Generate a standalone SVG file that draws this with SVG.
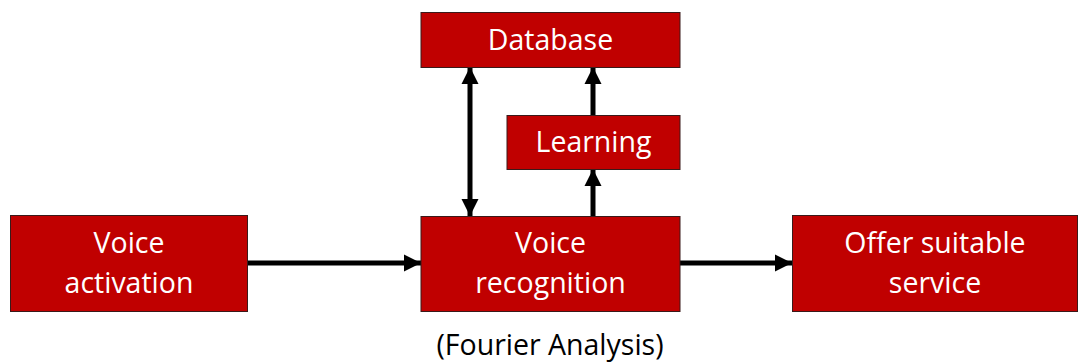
<svg xmlns="http://www.w3.org/2000/svg" width="1079" height="363" viewBox="0 0 1079 363">
  <style>
    .box { fill: #C00000; stroke: #3a1a1a; stroke-width: 1; }
    .label { fill: #ffffff; font-family: "Open Sans", "Liberation Sans", sans-serif; font-size: 28.5px; text-anchor: middle; }
    .note { fill: #000000; font-family: "Open Sans", "Liberation Sans", sans-serif; font-size: 28.5px; text-anchor: middle; }
    .conn { stroke: #000000; stroke-width: 5; fill: none; }
  </style>
  <defs>
    <marker id="head" viewBox="0 0 10 10" refX="10" refY="5" markerWidth="3.4" markerHeight="3.6" markerUnits="strokeWidth" orient="auto-start-reverse">
      <path d="M0,0 L10,5 L0,10 Z" fill="#000000"/>
    </marker>
  </defs>

  <g id="connectors">
    <line class="conn" x1="247" y1="263" x2="421" y2="263" marker-end="url(#head)"/>
    <line class="conn" x1="680" y1="263" x2="792" y2="263" marker-end="url(#head)"/>
    <line class="conn" x1="470" y1="67" x2="470" y2="216" marker-start="url(#head)" marker-end="url(#head)"/>
    <line class="conn" x1="593" y1="216" x2="593" y2="169" marker-end="url(#head)"/>
    <line class="conn" x1="593" y1="115" x2="593" y2="67" marker-end="url(#head)"/>
  </g>

  <g id="database">
    <rect class="box" x="421" y="12.5" width="259" height="55"/>
    <text class="label" x="550.5" y="50">Database</text>
  </g>

  <g id="learning">
    <rect class="box" x="507" y="115.5" width="173" height="54"/>
    <text class="label" x="593.5" y="152">Learning</text>
  </g>

  <g id="voice-activation">
    <rect class="box" x="10.5" y="215.5" width="237" height="96"/>
    <text class="label" x="129" y="253">Voice</text>
    <text class="label" x="129" y="293">activation</text>
  </g>

  <g id="voice-recognition">
    <rect class="box" x="421" y="216.5" width="259" height="95"/>
    <text class="label" x="550.5" y="253">Voice</text>
    <text class="label" x="550.5" y="293">recognition</text>
  </g>

  <g id="offer-service">
    <rect class="box" x="792.5" y="215.5" width="285" height="96"/>
    <text class="label" x="935" y="253">Offer suitable</text>
    <text class="label" x="935" y="293">service</text>
  </g>

  <text class="note" x="550" y="355">(Fourier Analysis)</text>
</svg>
